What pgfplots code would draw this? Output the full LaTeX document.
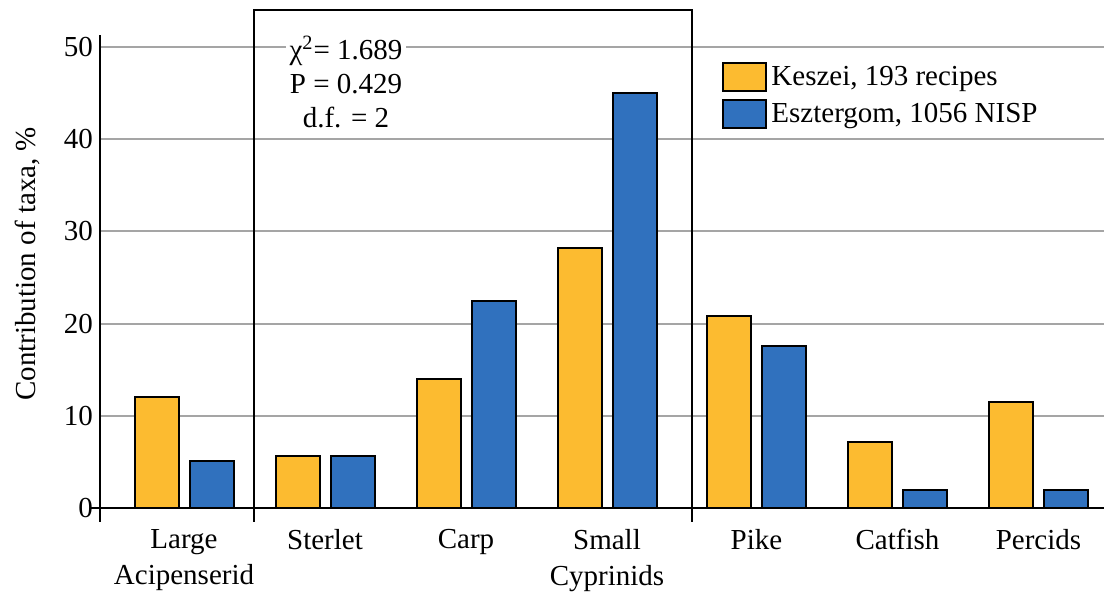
\documentclass[border=0pt]{standalone}
\usepackage{fontspec}
\setmainfont{LiberationSerif}[Extension=.ttf, UprightFont=*-Regular, BoldFont=*-Bold, ItalicFont=*-Italic, BoldItalicFont=*-BoldItalic]
\usepackage{pgfplots}
\pgfplotsset{compat=1.18}
\definecolor{kyel}{RGB}{252,187,48}
\definecolor{eblue}{RGB}{48,113,190}
\definecolor{gridgray}{RGB}{165,165,165}
\begin{document}
\rmfamily
\begin{tikzpicture}[font=\rmfamily\fontsize{14.5}{17.5}\selectfont]
\useasboundingbox (0,0) rectangle (552pt,296pt);
\begin{axis}[
  at={(50pt,35pt)}, anchor=south west,
  scale only axis, width=502pt, height=243.5pt,
  xmin=-0.596, xmax=6.525, ymin=-1.52, ymax=51.3,
  axis line style={draw=none},
  xtick={0,1,2,3,4.06,5.06,6.06},
  xticklabels={{Large\\Acipenserid}, Sterlet, Carp, {Small\\Cyprinids}, Pike, Catfish, Percids},
  xticklabel style={align=center, font=\rmfamily\fontsize{14.5}{18}\selectfont},
  yticklabel style={font=\rmfamily\fontsize{14.5}{17.5}\selectfont},
  ytick={0,10,...,50},
  major tick length=0pt,
  ymajorgrids, grid style={gridgray, line width=1pt},
  /pgf/number format/assume math mode=true,
  ylabel={Contribution of taxa, \%},
  ylabel style={at={(axis description cs:-0.072,0.53)}, anchor=center, font=\rmfamily\fontsize{14.5}{17.5}\selectfont},
  clip=false,
  legend style={at={(axis cs:3.816,48.4)}, anchor=north west, draw=none, fill=none, inner sep=0pt, row sep=3.5pt, font=\rmfamily\fontsize{14.5}{17.5}\selectfont},
  legend cell align=left,
]
\addplot[ybar, bar width=22pt, bar shift=-13.75pt, fill=kyel, draw=black, line width=1pt,
  legend image code/.code={\draw[fill=kyel, draw=black, line width=1pt] (0pt,-7pt) rectangle (21.5pt,7pt);}]
  coordinates {(0,12) (1,5.6) (2,14) (3,28.2) (4.06,20.8) (5.06,7.2) (6.06,11.5)};
\addlegendentry{Keszei, 193 recipes}
\addplot[ybar, bar width=22pt, bar shift=13.75pt, fill=eblue, draw=black, line width=1pt,
  legend image code/.code={\draw[fill=eblue, draw=black, line width=1pt] (0pt,-7pt) rectangle (21.5pt,7pt);}]
  coordinates {(0,5.1) (1,5.6) (2,22.4) (3,45) (4.06,17.6) (5.06,1.9) (6.06,1.9)};
\addlegendentry{Esztergom, 1056 NISP}
\draw[black, line width=1pt] (axis cs:-0.667,0) -- (axis cs:6.525,0);
\draw[black, line width=1pt] (rel axis cs:0,0) -- (rel axis cs:0,1);
\draw[black, line width=1pt] (axis cs:0.496,-1.52) -- (axis cs:0.496,54) -- (axis cs:3.60,54) -- (axis cs:3.60,-1.52);
\node[fill=white, align=center, inner sep=2pt, font=\rmfamily\fontsize{14.5}{17}\selectfont] at (axis cs:1.149,46.2) {χ\textsuperscript{2}= 1.689\\P = 0.429\\d.f. = 2};
\end{axis}
\end{tikzpicture}
\end{document}
